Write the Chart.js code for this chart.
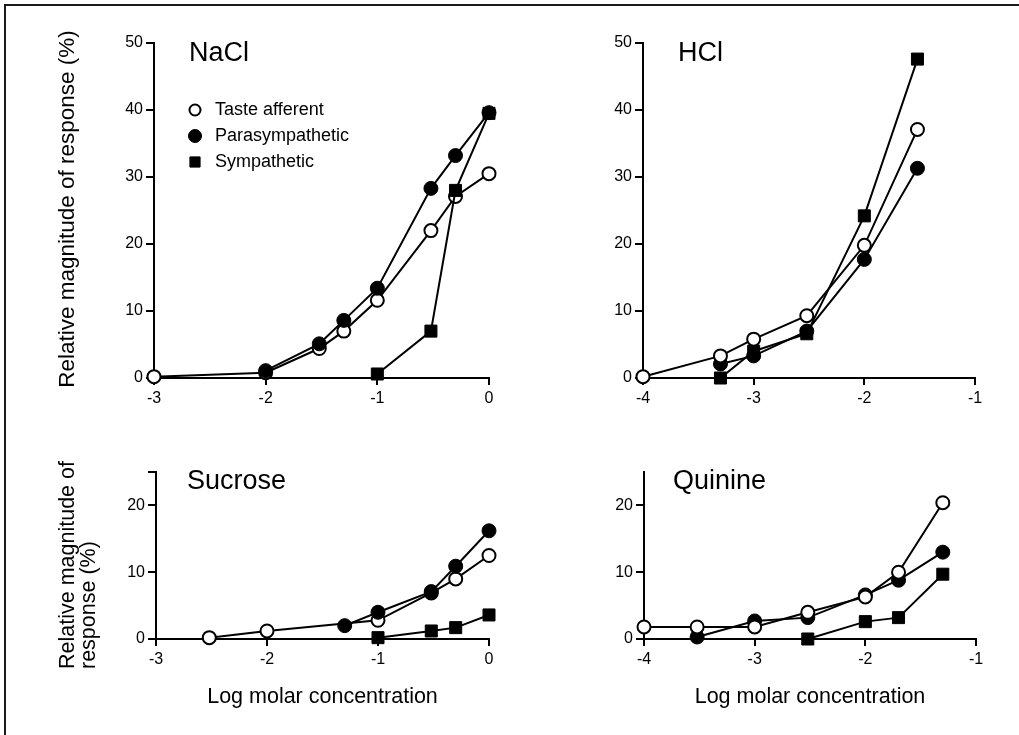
<!DOCTYPE html>
<html>
<head>
<meta charset="utf-8">
<script src="https://cdn.jsdelivr.net/npm/chart.js@4.4.1/dist/chart.umd.min.js"></script>
<style>
html, body { margin: 0; padding: 0; background: #fff; overflow: hidden; }
#wrap { position: relative; width: 1019px; height: 735px; }
#frame { position: absolute; left: 4px; top: 4px; width: 1100px; height: 800px; border-left: 2px solid #1a1a1a; border-top: 2px solid #1a1a1a; }
canvas { position: absolute; }
</style>
</head>
<body>
<div id="wrap">
    <div id="frame"></div>
    <canvas id="nacl" width="510" height="430" style="left:0px;top:0px"></canvas>
    <canvas id="hcl" width="509" height="430" style="left:510px;top:0px"></canvas>
    <canvas id="sucrose" width="510" height="305" style="left:0px;top:430px"></canvas>
    <canvas id="quinine" width="509" height="305" style="left:510px;top:430px"></canvas>
</div>
<script>
// values: x = log molar concentration, y = relative response (%)
const seriesNames = ['Taste afferent', 'Parasympathetic', 'Sympathetic']

const naclTasteX = [-3, -2, -1.52, -1.3, -1, -0.52, -0.3, 0]
const naclTaste  = [0.2, 0.8, 4.4, 7.0, 11.6, 22.0, 27.1, 30.5]
const naclParaX  = [-2, -1.52, -1.3, -1, -0.52, -0.3, 0]
const naclPara   = [1.1, 5.1, 8.6, 13.4, 28.3, 33.2, 39.6]
const naclSympX  = [-1, -0.52, -0.3, 0]
const naclSymp   = [0.6, 7.0, 28.0, 39.5]

const hclTasteX = [-4, -3.3, -3, -2.52, -2, -1.52]
const hclTaste  = [0.2, 3.3, 5.8, 9.3, 19.8, 37.1]
const hclParaX  = [-3.3, -3, -2.52, -2, -1.52]
const hclPara   = [2.1, 3.3, 7.0, 17.7, 31.3]
const hclSympX  = [-3.3, -3, -2.52, -2, -1.52]
const hclSymp   = [0, 4.0, 6.6, 24.2, 47.6]

const sucTasteX = [-2.52, -2, -1, -0.52, -0.3, 0]
const sucTaste  = [0.2, 1.2, 2.8, 6.9, 9.0, 12.5]
const sucParaX  = [-1.3, -1, -0.52, -0.3, 0]
const sucPara   = [2.0, 4.0, 7.1, 10.9, 16.2]
const sucSympX  = [-1, -0.52, -0.3, 0]
const sucSymp   = [0.2, 1.2, 1.7, 3.6]

const quiTasteX = [-4, -3.52, -3, -2.52, -2, -1.7, -1.3]
const quiTaste  = [1.8, 1.8, 1.8, 4.0, 6.3, 10.0, 20.4]
const quiParaX  = [-3.52, -3, -2.52, -2, -1.7, -1.3]
const quiPara   = [0.3, 2.7, 3.2, 6.6, 8.8, 13.0]
const quiSympX  = [-2.52, -2, -1.7, -1.3]
const quiSymp   = [0, 2.6, 3.2, 9.7]

const xTicksLeft   = [-3, -2, -1, 0]
const xTicksRight  = [-4, -3, -2, -1]
const yTicksTop    = [0, 10, 20, 30, 40, 50]
const yTicksBottom = [0, 10, 20]

const FONT = '"Liberation Sans", Arial, Helvetica, sans-serif'
Chart.defaults.color = '#000'
Chart.defaults.font.family = FONT

const markers = [
    { pointStyle: 'circle', pointRadius: 6.5, pointBackgroundColor: '#fff', pointBorderColor: '#000', pointBorderWidth: 2 },
    { pointStyle: 'circle', pointRadius: 7, pointBackgroundColor: '#000', pointBorderColor: '#000', pointBorderWidth: 1 },
    { pointStyle: 'rect', pointRadius: 8.5, pointBackgroundColor: '#000', pointBorderColor: '#000', pointBorderWidth: 1 }
]
const legendMarkers = [
    { pointStyle: 'circle', radius: 5.5, borderWidth: 2, fill: '#fff' },
    { pointStyle: 'circle', radius: 6.5, borderWidth: 1, fill: '#000' },
    { pointStyle: 'rect', radius: 7.2, borderWidth: 1, fill: '#000' }
]

// panel name, y title and (for NaCl) the legend, drawn on top of the plot
const panelText = {
    id: 'panelText',
    afterDraw(chart, args, o) {
        const ctx = chart.ctx
        ctx.save()
        ctx.fillStyle = '#000'
        ctx.textBaseline = 'middle'
        ctx.textAlign = 'left'
        ctx.font = `27px ${FONT}`
        ctx.fillText(o.name, o.nameX, o.nameY)

        if (o.yTitle) {
            const t = o.yTitle
            ctx.font = `${t.size}px ${FONT}`
            t.lines.forEach((line, i) => {
                ctx.save()
                ctx.translate(t.x + i * t.lineGap, t.y)
                ctx.rotate(-Math.PI / 2)
                ctx.textAlign = t.align
                ctx.fillText(line, 0, 0)
                ctx.restore()
            })
        }

        if (o.legend) {
            const L = o.legend
            ctx.font = `18px ${FONT}`
            seriesNames.forEach((name, i) => {
                const m = legendMarkers[i]
                const y = L.y + i * L.gap
                ctx.fillStyle = m.fill
                ctx.strokeStyle = '#000'
                ctx.lineWidth = m.borderWidth
                Chart.helpers.drawPoint(ctx, { pointStyle: m.pointStyle, radius: m.radius, borderWidth: m.borderWidth, rotation: 0 }, L.x, y)
                ctx.fillStyle = '#000'
                ctx.fillText(name, L.textX, y)
            })
        }
        ctx.restore()
    }
}

function series(i, xs, ys, order) {
    return {
        label: seriesNames[i],
        data: xs.map((x, k) => ({ x, y: ys[k] })),
        showLine: true,
        borderColor: '#000',
        borderWidth: 2,
        ...markers[i],
        pointHoverRadius: markers[i].pointRadius,
        order,
        clip: false
    }
}

function printPanel(id, p) {
    const canvas = document.getElementById(id)
    const W = canvas.width, H = canvas.height
    const axisLine = { color: '#000', width: 2 }
    const tickFont = { size: 16, family: FONT }

    new Chart(canvas, {
        type: 'scatter',
        data: { datasets: p.sets },
        options: {
            responsive: false,
            animation: false,
            events: [],
            layout: { autoPadding: false, padding: { left: 0, top: p.area.t, right: W - p.area.r, bottom: 0 } },
            scales: {
                x: {
                    type: 'linear',
                    min: p.xTicks[0],
                    max: p.xTicks[p.xTicks.length - 1],
                    afterBuildTicks: s => { s.ticks = p.xTicks.map(v => ({ value: v })) },
                    afterFit: s => { s.height = H - p.area.b },
                    ticks: { font: tickFont, color: '#000', padding: 4, maxRotation: 0, callback: v => String(v) },
                    grid: { drawOnChartArea: false, tickLength: 7, color: '#000', lineWidth: 2 },
                    border: axisLine,
                    title: p.xTitle
                        ? { display: true, text: 'Log molar concentration', color: '#000', font: { size: 21.5, family: FONT }, padding: { top: 0, bottom: 25 } }
                        : { display: false }
                },
                y: {
                    type: 'linear',
                    min: 0,
                    max: p.yMax,
                    afterBuildTicks: s => {
                        const t = p.yTicks.slice()
                        if (p.topTick) t.push(p.yMax)
                        s.ticks = t.map(v => ({ value: v }))
                    },
                    afterFit: s => { s.width = p.area.l },
                    ticks: { font: tickFont, color: '#000', padding: 3, callback: v => (p.yTicks.includes(v) ? String(v) : '') },
                    grid: { drawOnChartArea: false, tickLength: 8, color: '#000', lineWidth: 2 },
                    border: axisLine
                }
            },
            plugins: {
                legend: { display: false },
                tooltip: { enabled: false },
                panelText: p.text
            }
        },
        plugins: [panelText]
    })
}

printPanel('nacl', {
    xTicks: xTicksLeft, yTicks: yTicksTop, yMax: 50,
    area: { l: 154, t: 43, r: 489, b: 378 },
    sets: [series(0, naclTasteX, naclTaste, 2), series(1, naclParaX, naclPara, 1), series(2, naclSympX, naclSymp, 0)],
    text: {
        name: 'NaCl', nameX: 189, nameY: 54,
        yTitle: { lines: ['Relative magnitude of response (%)'], x: 68, y: 209, size: 22.5, align: 'center', lineGap: 0 },
        legend: { x: 195, textX: 215, y: 110, gap: 26 }
    }
})

printPanel('hcl', {
    xTicks: xTicksRight, yTicks: yTicksTop, yMax: 50,
    area: { l: 133, t: 43, r: 465, b: 378 },
    sets: [series(0, hclTasteX, hclTaste, 0), series(1, hclParaX, hclPara, 1), series(2, hclSympX, hclSymp, 2)],
    text: { name: 'HCl', nameX: 168, nameY: 54 }
})

printPanel('sucrose', {
    xTicks: xTicksLeft, yTicks: yTicksBottom, yMax: 25, topTick: true, xTitle: true,
    area: { l: 156, t: 42, r: 489, b: 209 },
    sets: [series(0, sucTasteX, sucTaste, 1), series(1, sucParaX, sucPara, 0), series(2, sucSympX, sucSymp, 2)],
    text: {
        name: 'Sucrose', nameX: 187, nameY: 52,
        yTitle: { lines: ['Relative magnitude of', 'response (%)'], x: 68, y: 239, size: 21.5, align: 'left', lineGap: 21 }
    }
})

printPanel('quinine', {
    xTicks: xTicksRight, yTicks: yTicksBottom, yMax: 25, xTitle: true,
    area: { l: 134, t: 42, r: 466, b: 209 },
    sets: [series(0, quiTasteX, quiTaste, 0), series(1, quiParaX, quiPara, 1), series(2, quiSympX, quiSymp, 2)],
    text: { name: 'Quinine', nameX: 163, nameY: 52 }
})
</script>
</body>
</html>
